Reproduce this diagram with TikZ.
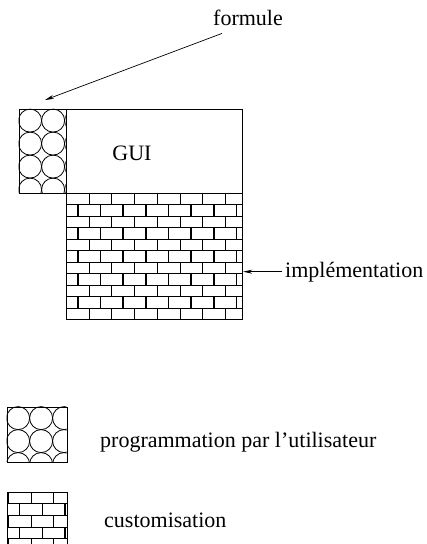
\documentclass[tikz,border=0pt]{standalone}
\usepackage{fontspec}
\setmainfont{Liberation Serif}
\usetikzlibrary{arrows.meta,positioning}
\begin{document}
\begin{tikzpicture}[x=1pt,y=-1pt,
	box/.style={draw=black,line width=0.8pt,inner sep=0pt},
	lbl/.style={inner sep=0pt,font=\fontsize{22}{26}\selectfont},
	arr/.style={-{Stealth[length=9pt,width=4pt]},line width=0.7pt}]
	\useasboundingbox (0,0) rectangle (427,544);
	\clip (0,0) rectangle (427,544);
	\node[box,
	minimum width=47pt,
	minimum height=84pt] (circ) at (42.5,151) {};
	\node[box,
	minimum width=176pt,
	minimum height=84pt,
	anchor=north west] (gui) at (circ.north east) {};
	\node[box,
	minimum width=176pt,
	minimum height=126pt,
	anchor=north west] (brick) at (gui.south west) {};
	\node[lbl,anchor=base] (guitext) at (132,160) {GUI};
	\node[lbl,anchor=base] (formule) at (248,25) {formule};
	\coordinate (ftip) at (45,100);
	\draw[arr] ([shift={(-26,8)}]formule.south) -- (ftip);
	\node[lbl,anchor=base west] (impl) at (285,277) {implémentation};
	\draw[arr] ([xshift=-3pt]impl.west) -- (impl.west -| brick.east);
	
	\begin{scope}[shift={(circ.north west)}]
		\clip (0,0) rectangle (47,84);
		\foreach \r in {0,...,3}
			\foreach \c in {0,...,2}
				\draw[line width=0.8pt] (11.5+\c*23,12+\r*23) circle[radius=11.5];
	\end{scope}
	\begin{scope}[shift={(brick.north west)}]
		\clip (0,0) rectangle (176,126);
		\foreach \r in {0,...,10} {
			\draw[line width=0.8pt] (0,\r*11.45) -- (176,\r*11.45);
			\pgfmathsetmacro\off{mod(\r,2)*11.35}
			\pgfmathsetmacro\lw{mod(\r,2)==1?1.6:0.8}
			\foreach \c in {0,...,8}
				\draw[line width=\lw pt] (\off+\c*22.7,\r*11.45) -- ++(0,11.45);
		}
	\end{scope}
	
	\node[box,
	minimum width=60pt,
	minimum height=55pt] (legcirc) at (37,434.5) {};
	\begin{scope}[shift={(legcirc.north west)}]
		\clip (0,0) rectangle (60,55);
		\foreach \r in {0,...,2}
			\foreach \c in {0,...,2}
				\draw[line width=0.8pt] (11.5+\c*23,11.5+\r*23) circle[radius=11.5];
	\end{scope}
	\node[lbl,anchor=base west] (prog) at (100,447) {programmation par l'utilisateur};
	
	\node[box,
	minimum width=60pt,
	minimum height=56pt,
	anchor=north west] (legbrick) at (7,492) {};
	\begin{scope}[shift={(legbrick.north west)}]
		\clip (0,0) rectangle (60,56);
		\foreach \r in {0,...,4} {
			\draw[line width=0.8pt] (0,\r*11.7) -- (60,\r*11.7);
			\pgfmathsetmacro\off{1.3+mod(\r,2)*11.35}
			\pgfmathsetmacro\lw{mod(\r,2)==1?1.6:0.8}
			\foreach \c in {0,...,3}
				\draw[line width=\lw pt] (\off+\c*22.7,\r*11.7) -- ++(0,11.7);
		}
	\end{scope}
	\node[lbl,anchor=base west] (cust) at (104,527) {customisation};
\end{tikzpicture}
\end{document}
